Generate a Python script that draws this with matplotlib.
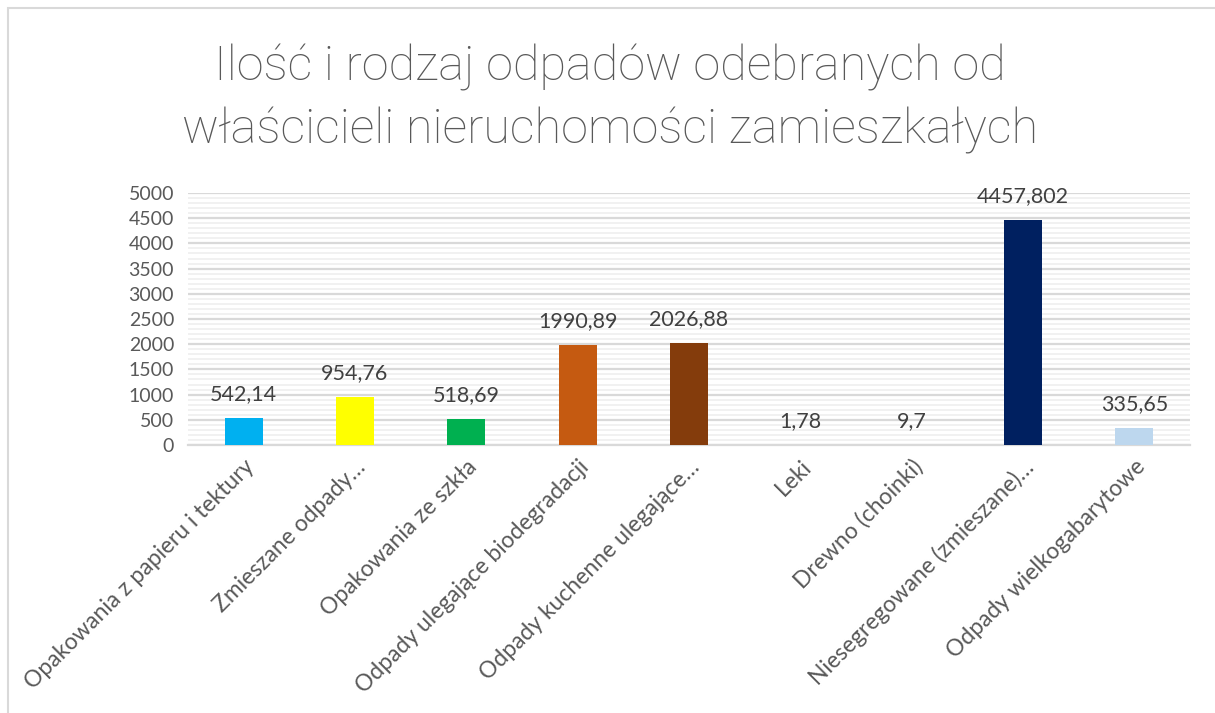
import numpy as np
import matplotlib
matplotlib.use("Agg")
import matplotlib.pyplot as plt
from matplotlib.patches import Rectangle
from matplotlib.ticker import MultipleLocator

plt.rcParams['font.family'] = ['Lato', 'DejaVu Sans']

# dane
categories = ["Opakowania z papieru i tektury", "Zmieszane odpady…", "Opakowania ze szkła",
              "Odpady ulegające biodegradacji", "Odpady kuchenne ulegające…", "Leki",
              "Drewno (choinki)", "Niesegregowane (zmieszane)…", "Odpady wielkogabarytowe"]
values = [542.14, 954.76, 518.69, 1990.89, 2026.88, 1.78, 9.7, 4457.802, 335.65]
colors = ["#00B0F0", "#FFFF00", "#00B050", "#C55A11", "#843C0C", "#A5A5A5", "#7F6000",
          "#002060", "#BDD7EE"]
title = "Ilość i rodzaj odpadów odebranych od\nwłaścicieli nieruchomości zamieszkałych"

fig = plt.figure(figsize=(12.15, 7.13), dpi=100)
ax = fig.add_axes([188/1215, 1-445/713, 1002/1215, 252/713])

x = np.arange(len(categories))
ax.bar(x, values, width=0.34, color=colors, zorder=3)

# etykiety danych
for xi, v in zip(x, values):
    ax.annotate(str(v).replace('.', ','), (xi, v), xytext=(0, 10), textcoords='offset points',
                ha='center', va='bottom', fontsize=15.5, color='#404040')

ax.set_xlim(-0.5, len(categories) - 0.5)
ax.set_ylim(0, 5000)
ax.yaxis.set_major_locator(MultipleLocator(500))
ax.yaxis.set_minor_locator(MultipleLocator(100))
ax.grid(which='major', axis='y', color='#D9D9D9', lw=1.6, zorder=1)
ax.grid(which='minor', axis='y', color='#F0F0F0', lw=1.3, zorder=0)
for s in ['top', 'right', 'left']:
    ax.spines[s].set_visible(False)
ax.spines['bottom'].set_color('#D9D9D9')
ax.spines['bottom'].set_linewidth(1.6)
ax.tick_params(axis='y', which='both', length=0, labelsize=14, labelcolor='#595959', pad=10)
ax.tick_params(axis='x', length=0, labelsize=16.5, labelcolor='#595959', pad=8)
ax.set_xticks(x)
ax.set_xticklabels(categories, rotation=45, ha='right', va='top', rotation_mode='anchor')

fig.text(0.502, 1-99/713, title, ha='center', va='center', fontsize=35, color='#595959',
         family=['Roboto', 'DejaVu Sans'], fontweight='light', linespacing=1.42)

# ramka wykresu
fig.patches.append(Rectangle((8/1215, -0.1), 1.2, 1-8/713+0.1, transform=fig.transFigure,
                             fill=False, edgecolor='#D9D9D9', lw=1.5))

fig.savefig("out.png", dpi=100)
